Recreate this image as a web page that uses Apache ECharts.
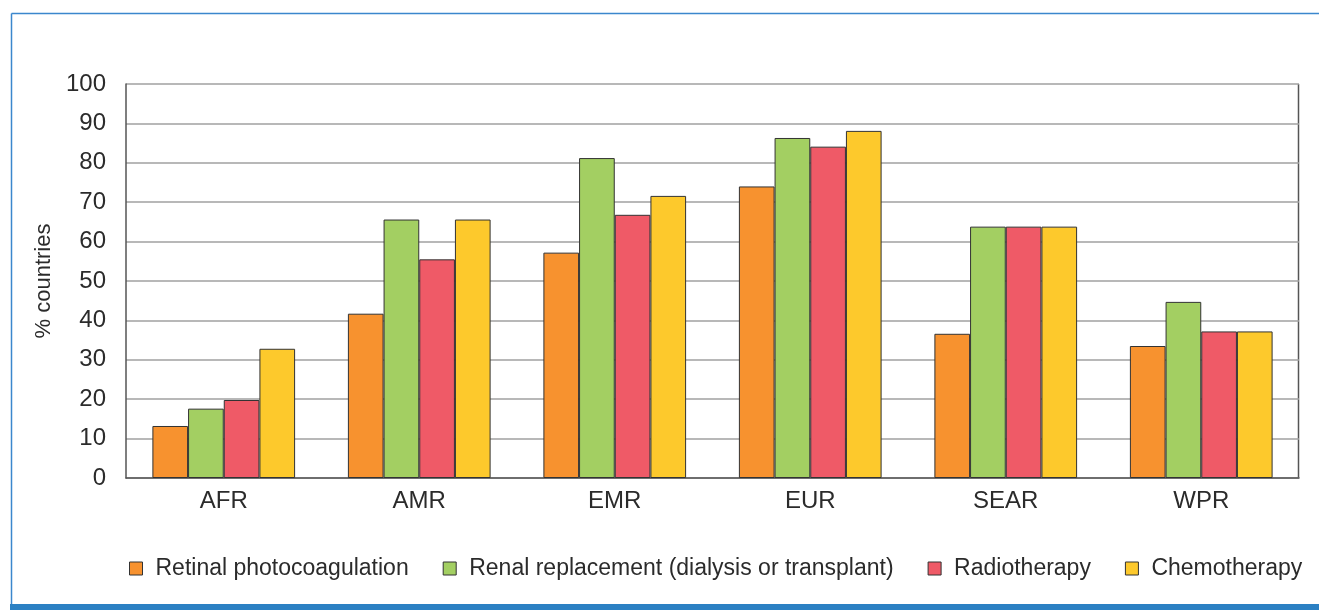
<!DOCTYPE html>
<html>
<head>
<meta charset="utf-8">
<script src="https://cdn.jsdelivr.net/npm/echarts@6/dist/echarts.min.js"></script>
<style>
  html, body { margin: 0; padding: 0; background: #fff; }
  #chart { width: 1319px; height: 610px; }
</style>
</head>
<body>
<div id="chart"></div>
<script>
var regions = ['AFR', 'AMR', 'EMR', 'EUR', 'SEAR', 'WPR']
var yTicks = [0, 10, 20, 30, 40, 50, 60, 70, 80, 90, 100]

var retinal = [13.2, 41.7, 57.2, 74.0, 36.6, 33.5]
var renal = [17.6, 65.6, 81.2, 86.3, 63.8, 44.7]
var radio = [19.8, 55.5, 66.8, 84.1, 63.8, 37.2]
var chemo = [32.8, 65.6, 71.6, 88.1, 63.8, 37.2]

var seriesNames = [
  'Retinal photocoagulation',
  'Renal replacement (dialysis or transplant)',
  'Radiotherapy',
  'Chemotherapy'
]
var colors = ['#f7922f', '#a3cf62', '#ef5a67', '#fdc92c']
var font = 'Liberation Sans'

var myChart = echarts.init(document.getElementById('chart'))

function bar(i, data) {
  return {
    name: seriesNames[i],
    type: 'bar',
    data: data,
    barGap: '0%',
    barCategoryGap: '27%',
    itemStyle: { color: colors[i], borderColor: '#333', borderWidth: 1 }
  }
}

var option = {
  animation: false,
  textStyle: { fontFamily: font },
  grid: { left: 126, right: 20, top: 84, bottom: 132 },
  legend: {
    left: 124,
    top: 552,
    width: 1195,
    itemWidth: 13,
    itemHeight: 13,
    itemGap: 34,
    icon: 'rect',
    itemStyle: { borderColor: '#333', borderWidth: 1 },
    textStyle: { fontFamily: font, fontSize: 23, color: '#2b2b2b', padding: [0, 0, 0, 8] },
    data: seriesNames
  },
  xAxis: {
    type: 'category',
    data: regions,
    axisLine: { lineStyle: { color: '#555', width: 1.5 } },
    axisTick: { show: false },
    axisLabel: { fontFamily: font, fontSize: 24, color: '#2b2b2b', margin: 11 }
  },
  yAxis: {
    type: 'value',
    min: yTicks[0],
    max: yTicks[yTicks.length - 1],
    interval: 10,
    name: '% countries',
    nameLocation: 'middle',
    nameGap: 71,
    nameTextStyle: { fontFamily: font, fontSize: 22, color: '#2b2b2b' },
    axisLine: { show: true, lineStyle: { color: '#555', width: 1.5 } },
    axisTick: { show: false },
    axisLabel: { fontFamily: font, fontSize: 24, color: '#2b2b2b', margin: 20 },
    splitLine: { lineStyle: { color: '#a0a0a0', width: 1.5 } }
  },
  graphic: [
    // right edge of the plot frame
    { type: 'line', shape: { x1: 1298.5, y1: 84, x2: 1298.5, y2: 478 }, style: { stroke: '#555', lineWidth: 1.5 } },
    // outer blue frame
    { type: 'line', shape: { x1: 11.5, y1: 13.5, x2: 1319, y2: 13.5 }, style: { stroke: '#3b87cd', lineWidth: 1.5 } },
    { type: 'line', shape: { x1: 11.5, y1: 13.5, x2: 11.5, y2: 604 }, style: { stroke: '#3b87cd', lineWidth: 1.5 } },
    { type: 'rect', shape: { x: 10, y: 604, width: 1309, height: 6 }, style: { fill: '#2b80c3' } }
  ],
  series: [bar(0, retinal), bar(1, renal), bar(2, radio), bar(3, chemo)]
}

option && myChart.setOption(option)
</script>
</body>
</html>
